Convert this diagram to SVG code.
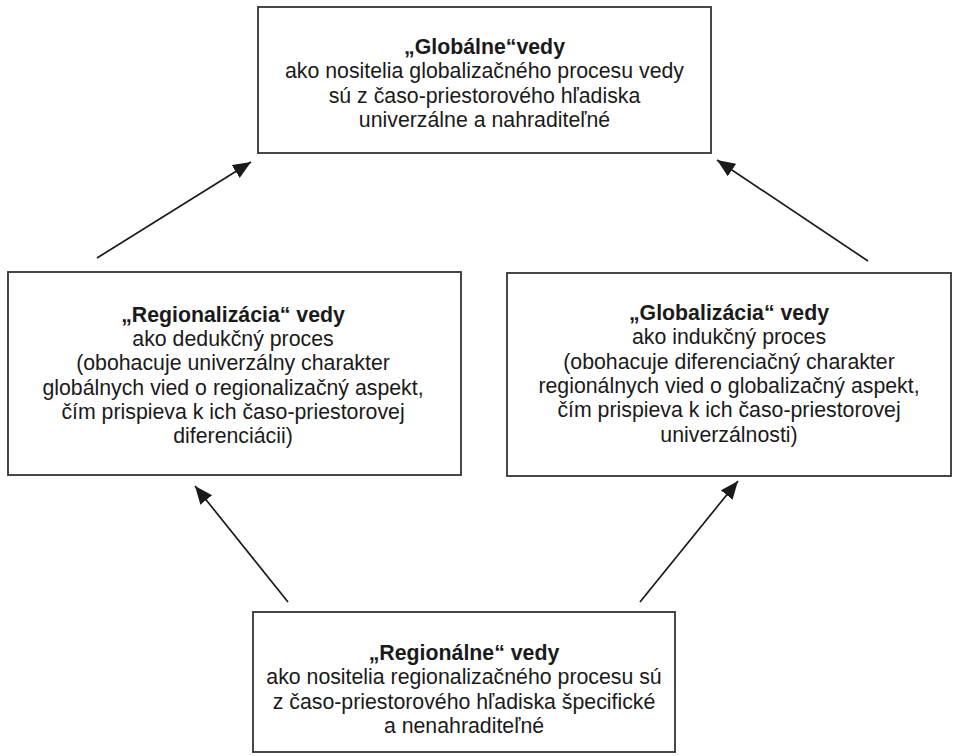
<svg xmlns="http://www.w3.org/2000/svg" width="956" height="756" viewBox="0 0 956 756">
<style>
  .box { fill: #ffffff; stroke: #333333; stroke-width: 1.8; }
  .t { font-family: "Liberation Sans", Arial, sans-serif; font-size: 21.3px; fill: #1a1a1a; text-anchor: middle; }
  .b { font-weight: bold; }
  .conn { stroke: #1a1a1a; stroke-width: 1.7; fill: none; marker-end: url(#ah); }
</style>
<defs>
  <marker id="ah" markerUnits="userSpaceOnUse" markerWidth="19" markerHeight="16" refX="18" refY="7.5" orient="auto">
    <path d="M0,0 L18,7.5 L0,15 z" fill="#1a1a1a"/>
  </marker>
</defs>
<rect width="956" height="756" fill="#ffffff"/>
<g id="connectors">
  <line class="conn" x1="97" y1="258" x2="251" y2="162"/>
  <line class="conn" x1="868" y1="261" x2="717" y2="160"/>
  <line class="conn" x1="288" y1="602" x2="195" y2="486"/>
  <line class="conn" x1="640" y1="602" x2="738" y2="481"/>
</g>
<g id="globalne">
  <rect class="box" x="258" y="7" width="453" height="146"/>
  <text class="t b" x="484.5" y="54">„Globálne“vedy</text>
  <text class="t" x="484.5" y="78.3">ako nositelia globalizačného procesu vedy</text>
  <text class="t" x="484.5" y="102.6">sú z časo-priestorového hľadiska</text>
  <text class="t" x="484.5" y="126.9">univerzálne a nahraditeľné</text>
</g>
<g id="regionalizacia">
  <rect class="box" x="8" y="272" width="453" height="203"/>
  <text class="t b" x="233" y="321.7">„Regionalizácia“ vedy</text>
  <text class="t" x="233" y="346">ako dedukčný proces</text>
  <text class="t" x="233" y="370.3">(obohacuje univerzálny charakter</text>
  <text class="t" x="233" y="394.6">globálnych vied o regionalizačný aspekt,</text>
  <text class="t" x="233" y="418.9">čím prispieva k ich časo-priestorovej</text>
  <text class="t" x="233" y="443.2">diferenciácii)</text>
</g>
<g id="globalizacia">
  <rect class="box" x="507" y="273" width="444" height="203"/>
  <text class="t b" x="729" y="320">„Globalizácia“ vedy</text>
  <text class="t" x="729" y="344.3">ako indukčný proces</text>
  <text class="t" x="729" y="368.6">(obohacuje diferenciačný charakter</text>
  <text class="t" x="729" y="392.9">regionálnych vied o globalizačný aspekt,</text>
  <text class="t" x="729" y="417.2">čím prispieva k ich časo-priestorovej</text>
  <text class="t" x="729" y="441.5">univerzálnosti)</text>
</g>
<g id="regionalne">
  <rect class="box" x="253" y="612" width="422" height="140"/>
  <text class="t b" x="464" y="660">„Regionálne“ vedy</text>
  <text class="t" x="464" y="684.3">ako nositelia regionalizačného procesu sú</text>
  <text class="t" x="464" y="708.6">z časo-priestorového hľadiska špecifické</text>
  <text class="t" x="464" y="732.9">a nenahraditeľné</text>
</g>
</svg>
